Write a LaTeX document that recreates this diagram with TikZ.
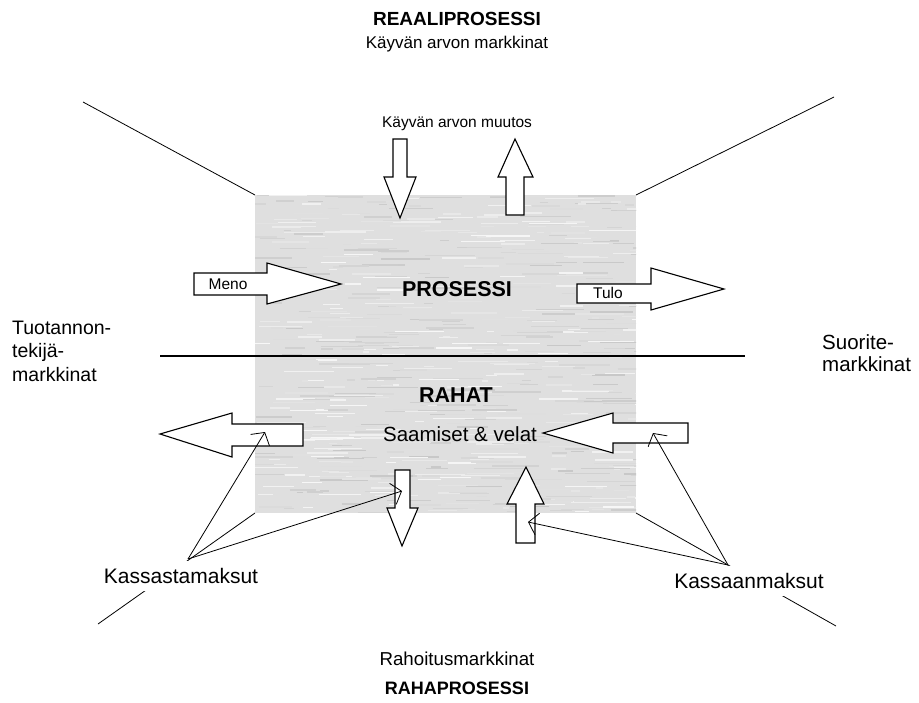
\documentclass[tikz,border=0pt]{standalone}
\usepackage{fontspec}
\setmainfont{Liberation Sans}
\usetikzlibrary{arrows.meta}

\newcommand{\setfs}[2]{\fontsize{#1}{#2}\selectfont}

\tikzset{
  thinline/.style={line width=0.8pt, black},
  divider/.style={line width=1.1pt, black},
  blockarrow/.style={draw=black, fill=white, line width=1.1pt, line join=miter},
  pointer/.style={line width=0.8pt, -{Straight Barb[length=9pt,width=22pt,line width=0.8pt]}},
  heading/.style={inner sep=0pt, font=\setfs{19}{22}\bfseries},
  bigbold/.style={inner sep=0pt, font=\setfs{21.5}{24}\bfseries},
  plain/.style={inner sep=0pt, font=\setfs{17}{20}},
  small/.style={inner sep=0pt, font=\setfs{15.5}{18}},
  market/.style={inner sep=0pt, anchor=west, align=left, font=\setfs{19.5}{23.5}},
  payment/.style={fill=white, inner xsep=2pt, inner ysep=0pt, minimum height=30pt, font=\setfs{21}{24}},
}

\begin{document}
\begin{tikzpicture}[x=1pt,y=-1pt]
\useasboundingbox (0,0) rectangle (919,702);

% corners of the process block and the outer frame lines
\coordinate (tl) at (255,195);
\coordinate (tr) at (636,195);
\coordinate (bl) at (255,513);
\coordinate (br) at (636,513);
\coordinate (tlout) at (83,102);
\coordinate (trout) at (834,97);
\coordinate (blout) at (98,624);
\coordinate (brout) at (836,626);

\draw[thinline] (tl) -- (tlout);
\draw[thinline] (tr) -- (trout);
\draw[thinline] (bl) -- (blout);
\draw[thinline] (br) -- (brout);

% textured grey process block
\begin{scope}
  \clip (tl) rectangle (br);
  \fill[gray!25] (tl) rectangle (br);
  \pgfmathsetseed{4}
  \foreach \i in {1,...,650}{
    \pgfmathsetmacro\xa{245+rnd*391}
    \pgfmathsetmacro\ya{195+rnd*318}
    \pgfmathsetmacro\len{6+rnd*45}
    \pgfmathsetmacro\shade{int(6+rnd*38)}
    \draw[gray!\shade, line width=1.3pt] (\xa,\ya) -- ++(\len,0);
  }
\end{scope}

% divider between process and money
\coordinate (divL) at (160,356);
\coordinate (divR) at (745,356);
\draw[divider] (divL) -- (divR);

% titles
\node[heading] (reaali) at (457,19) {REAALIPROSESSI};
\node[plain] (kamark) at (457,44) {Käyvän arvon markkinat};
\node[small] (muutos) at (457,124) {Käyvän arvon muutos};
\node[plain, font=\setfs{18.7}{22}] (rahoitus) at (457,659) {Rahoitusmarkkinat};
\node[heading, font=\setfs{18}{21}\bfseries] (rahap) at (457,688) {RAHAPROSESSI};

% markets on the sides
\node[market] (tuot) at (12,351) {Tuotannon-\\tekijä-\\markkinat};
\node[market, font=\setfs{20.5}{22.5}] (suor) at (822,353) {Suorite-\\markkinat};

% value change arrows
\draw[blockarrow] (393,139) -- (407,139) -- (407,177) -- (416,177) -- (400,218)
  -- (384,177) -- (393,177) -- cycle;
\draw[blockarrow] (515,139) -- (533,177) -- (524,177) -- (524,215) -- (506,215)
  -- (506,177) -- (498,177) -- cycle;

% expense and income arrows
\draw[blockarrow] (194,273) -- (267,273) -- (267,263) -- (341,284) -- (267,304)
  -- (267,295) -- (194,295) -- cycle;
\node[small] (meno) at (228,284) {Meno};
\draw[blockarrow] (577,284) -- (651,284) -- (651,268) -- (724,289) -- (651,310)
  -- (651,303) -- (577,303) -- cycle;
\node[small] (tulo) at (608,293) {Tulo};

\node[bigbold] (prosessi) at (457,289) {PROSESSI};
\node[bigbold] (rahat) at (456,395) {RAHAT};
\node[inner sep=0pt, font=\setfs{20.5}{23}] (saamiset) at (460,434) {Saamiset \& velat};

% cash flow arrows
\draw[blockarrow] (160,434) -- (232,413) -- (232,424) -- (303,424) -- (303,446)
  -- (232,446) -- (232,457) -- cycle;
\draw[blockarrow] (543,433) -- (613,413) -- (613,423) -- (688,423) -- (688,443)
  -- (613,443) -- (613,453) -- cycle;
\draw[blockarrow] (395,470) -- (410,470) -- (410,508) -- (418,508) -- (402,546)
  -- (387,508) -- (395,508) -- cycle;
\draw[blockarrow] (526,467) -- (544,504) -- (535,504) -- (535,543) -- (516,543)
  -- (516,504) -- (507,504) -- cycle;

% payment labels and their pointers
\node[payment] (kassasta) at (181,576) {Kassastamaksut};
\node[payment] (kassaan) at (749,581) {Kassaanmaksut};

\coordinate (outsrc) at (188,559);
\coordinate (insrc) at (728,565);
\coordinate (outA) at (265,432);
\coordinate (outB) at (402,491);
\coordinate (inA) at (653,433);
\coordinate (inB) at (528,522);

\draw[pointer] (outsrc) -- (outA);
\draw[pointer] (outsrc) -- (outB);
\draw[pointer] (insrc) -- (inA);
\draw[pointer] (insrc) -- (inB);
\end{tikzpicture}
\end{document}
